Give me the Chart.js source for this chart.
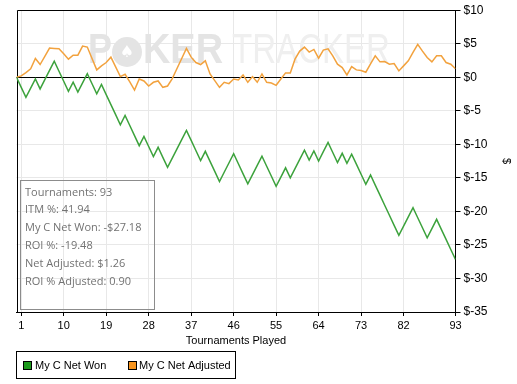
<!DOCTYPE html>
<html>
<head>
<meta charset="utf-8">
<script src="https://cdn.jsdelivr.net/npm/chart.js@4.4.0/dist/chart.umd.min.js"></script>
<style>
  html,body{margin:0;padding:0;background:#fff}
  #wrap{position:relative;width:517px;height:384px}
</style>
</head>
<body>
<div id="wrap"><canvas id="c" width="517" height="384"></canvas></div>
<script>
// cumulative results per tournament (index 0 = start)
const netWon = [
  0, -1.5, -3, -1.62, -0.24, -1.74, -0.36, 1.02, 2.4, 0.9,
  -0.6, -2.1, -0.72, -2.22, -0.84, 0.54, -0.96, -2.46, -1.08, -2.58,
  -4.08, -5.58, -7.08, -5.7, -7.2, -8.7, -10.2, -8.82, -10.32, -11.82,
  -10.44, -11.94, -13.44, -12.06, -10.68, -9.3, -7.92, -9.42, -10.92, -12.42,
  -11.04, -12.54, -14.04, -15.54, -14.16, -12.78, -11.4, -12.9, -14.4, -15.9,
  -14.52, -13.14, -11.76, -13.26, -14.76, -16.26, -14.88, -13.5, -15, -13.62,
  -12.24, -10.86, -12.36, -10.98, -12.48, -11.1, -9.72, -11.22, -12.72, -11.34,
  -12.84, -11.46, -12.96, -14.46, -15.96, -14.58, -16.08, -17.58, -19.08, -20.58,
  -22.08, -23.58, -22.2, -20.82, -19.44, -20.94, -22.44, -23.94, -22.56, -21.18,
  -22.68, -24.18, -25.68, -27.18
];
const netAdjusted = [
  0, 0.2, 0.7, 1.25, 2.8, 1.9, 3.1, 4.35, 4.3, 4.25,
  3.5, 2.7, 3.3, 3.3, 4.65, 4.5, 2.8, 1.1, 1.7, 2.2,
  3.0, 1.55, 0.1, 0.45, -0.7, -1.9, -0.25, -0.55, -1.3, -0.75,
  -0.55, -1.5, -1.3, -0.2, 1.3, 2.8, 4.3, 3.0, 2.2, 1.9,
  2.45, 0.5, -0.5, -1.5, -0.75, -0.95, -0.25, -0.4, 0.35, -0.75,
  0.1, -0.75, 0.5, -0.75, -0.85, -1.2, -0.25, 0.65, 0.65, 2.7,
  3.9, 4.5, 3.75, 4.15, 2.85, 4.05, 4.25, 3.2, 1.95, 1.45,
  0.35, 1.6, 1.1, 1.0, 0.75, 2.0, 3.2, 2.3, 2.35, 1.95,
  2.05, 0.95, 1.7, 2.45, 3.7, 4.9, 3.9, 2.95, 2.3, 3.2,
  3.2, 2.2, 1.95, 1.26
];
const xTicks = [1, 10, 19, 28, 37, 46, 55, 64, 73, 82, 93];
const yTicks = [10, 5, 0, -5, -10, -15, -20, -25, -30, -35];
const seriesNames = ['My C Net Won', 'My C Net Adjusted'];
const statLines = [
  'Tournaments: 93',
  'ITM %: 41.94',
  'My C Net Won: -$27.18',
  'ROI %: -19.48',
  'Net Adjusted: $1.26',
  'ROI % Adjusted: 0.90'
];

const lineCol = ['#3ca23c', '#f2a23e'];
const keyCol = ['#1c9a1c', '#f7941e'];
const FONT = '"Liberation Sans", Arial, sans-serif';
const pts = arr => arr.map((v, i) => ({x: i, y: v}));

// faint logo behind the lines
const watermark = {
  id: 'wm',
  beforeDatasetsDraw(c) {
    const x = c.ctx;
    const fit = (s, x0, x1, base, font, col) => {
      x.save(); x.font = font; x.fillStyle = col;
      const w = x.measureText(s).width;
      x.translate(x0, base); x.scale((x1 - x0) / w, 1);
      x.fillText(s, 0, 0); x.restore();
    };
    fit('P', 88, 112, 63, 'bold 42px ' + FONT, '#e4e4e4');
    x.save();
    x.fillStyle = '#e4e4e4';
    x.beginPath(); x.arc(127, 52, 15, 0, Math.PI * 2); x.fill();
    x.fillStyle = '#fff'; x.font = '16px "DejaVu Sans"'; x.textAlign = 'center'; x.textBaseline = 'middle';
    x.fillText('\u2660', 127, 53);
    x.restore();
    fit('KER', 143, 223, 63, 'bold 42px ' + FONT, '#e4e4e4');
    fit('TRACKER', 232, 390, 63, '42px ' + FONT, '#efefef');
  }
};

// black frame and zero line
const frame = {
  id: 'frame',
  beforeDatasetsDraw(c) {
    const x = c.ctx, a = c.chartArea, y0 = Math.round(c.scales.y.getPixelForValue(0)) + 0.5;
    x.save();
    x.strokeStyle = '#000'; x.lineWidth = 1;
    x.beginPath();
    x.moveTo(Math.round(a.left) + 0.5, a.bottom); x.lineTo(Math.round(a.left) + 0.5, Math.round(a.top) + 0.5);
    x.lineTo(a.right, Math.round(a.top) + 0.5);
    x.moveTo(a.left, y0); x.lineTo(a.right, y0);
    x.stroke();
    x.restore();
  }
};

// stats box and legend
const extras = {
  id: 'extras',
  afterDraw(c) {
    const x = c.ctx;
    x.save();
    x.strokeStyle = '#8c8c8c'; x.lineWidth = 1;
    x.strokeRect(20.5, 180.5, 134, 129);
    x.fillStyle = '#727272'; x.font = '11px "Open Sans"'; x.textBaseline = 'middle';
    statLines.forEach((s, i) => x.fillText(s, 25, 192.5 + i * 17.8));

    x.strokeStyle = '#000';
    x.strokeRect(16.5, 351.5, 219, 27);
    x.font = '11px ' + FONT;
    const keyX = [23, 128], txtX = [35, 139];
    seriesNames.forEach((s, i) => {
      x.fillStyle = keyCol[i]; x.fillRect(keyX[i], 361, 8, 8);
      x.strokeStyle = '#000'; x.strokeRect(keyX[i] + 0.5, 361.5, 8, 8);
      x.fillStyle = '#000'; x.fillText(s, txtX[i], 366);
    });
    x.restore();
  }
};

new Chart(document.getElementById('c'), {
  type: 'line',
  data: {
    datasets: [
      { label: seriesNames[0], data: pts(netWon), borderColor: lineCol[0], borderWidth: 1.5, pointRadius: 0, tension: 0 },
      { label: seriesNames[1], data: pts(netAdjusted), borderColor: lineCol[1], borderWidth: 1.5, pointRadius: 0, tension: 0 }
    ]
  },
  options: {
    responsive: false, animation: false, devicePixelRatio: 1,
    layout: { padding: { left: 16.5, top: 7, right: 0, bottom: 32 } },
    plugins: { legend: { display: false }, tooltip: { enabled: false } },
    scales: {
      x: {
        type: 'linear', min: 0, max: netWon.length - 1,
        afterBuildTicks: s => { s.ticks = xTicks.map(v => ({ value: v })); },
        afterFit: s => { s.height = 40; },
        grid: { color: '#e8e8e8', tickColor: '#000', tickLength: 4 },
        border: { color: '#000' },
        ticks: { color: '#000', font: { size: 11, family: FONT }, padding: 3, maxRotation: 0, autoSkip: false },
        title: { display: true, text: 'Tournaments Played', color: '#000', font: { size: 11, family: FONT }, padding: { top: 0, bottom: 4 } }
      },
      y: {
        position: 'right', min: -35, max: 10,
        afterBuildTicks: s => { s.ticks = yTicks.map(v => ({ value: v })); },
        afterFit: s => { s.width = 61.5; },
        grid: { color: '#e8e8e8', tickColor: '#000', tickLength: 5 },
        border: { color: '#000' },
        ticks: { color: '#000', font: { size: 12, family: FONT }, padding: 3, callback: v => '$' + v },
        title: { display: true, text: '$', color: '#000', font: { size: 11, family: FONT }, padding: { top: 4, bottom: 8 } }
      }
    }
  },
  plugins: [watermark, frame, extras]
});
</script>
</body>
</html>
